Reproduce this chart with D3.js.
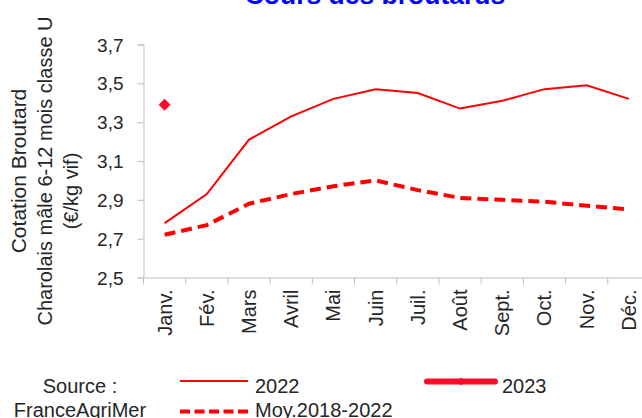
<!DOCTYPE html>
<html>
<head>
<meta charset="utf-8">
<script src="https://cdn.jsdelivr.net/npm/d3@7"></script>
<style>
  html, body { margin: 0; padding: 0; background: #fff; }
  svg { display: block; }
  text { font-family: "Liberation Sans", Arial, sans-serif; fill: #262626; }
</style>
</head>
<body>
<svg id="chart" width="642" height="418"></svg>
<script>
const months = ["Janv.", "Fév.", "Mars", "Avril", "Mai", "Juin", "Juil.", "Août", "Sept.", "Oct.", "Nov.", "Déc."];
const values2022 = [2.78, 2.93, 3.21, 3.33, 3.42, 3.47, 3.45, 3.37, 3.41, 3.47, 3.49, 3.42];
const valuesMoy = [2.72, 2.77, 2.88, 2.93, 2.97, 3.00, 2.95, 2.91, 2.90, 2.89, 2.87, 2.85];
const values2023 = [3.39];
const yTicks = [2.5, 2.7, 2.9, 3.1, 3.3, 3.5, 3.7];
const titleText = "Cours des broutards";
const yTitleLines = ["Cotation Broutard", "Charolais mâle 6-12 mois classe U", "(€/kg vif)"];

const svg = d3.select("#chart");
const plotLeft = 143.5, plotRight = 650, plotTop = 44.5, plotBottom = 277.5;
const axisColor = "#bfbfbf";

const x = d3.scaleBand().domain(months).range([plotLeft, plotRight]).padding(0);
const y = d3.scaleLinear().domain([2.5, 3.7]).range([plotBottom, plotTop]);

// Title (clipped at top, as in the reference)
svg.append("text").attr("x", 375).attr("y", 4).attr("text-anchor", "middle")
  .style("font-size", "26.5px").style("font-weight", "bold").style("fill", "#0000ff")
  .text(titleText);

// Y axis
const yAxis = svg.append("g").attr("transform", `translate(${plotLeft},0)`)
  .call(d3.axisLeft(y).tickValues(yTicks).tickSize(6).tickPadding(14)
    .tickFormat(d => d3.format(".1f")(d).replace(".", ",")));
yAxis.selectAll("path, line").attr("stroke", axisColor);
yAxis.selectAll("text").style("font-size", "19px").style("font-family", "Liberation Sans, Arial, sans-serif").attr("fill", "#262626").attr("dy", "0.35em");

// X axis
const xAxis = svg.append("g").attr("transform", `translate(0,${plotBottom})`)
  .call(d3.axisBottom(x).tickSize(0).tickFormat(""));
xAxis.select("path").attr("stroke", axisColor);
xAxis.selectAll(".tick").remove();
const bounds = months.map(m => x(m)).concat([plotRight]);
xAxis.selectAll("line.bt").data(bounds).enter().append("line").attr("class", "bt")
  .attr("x1", d => d).attr("x2", d => d).attr("y1", 0).attr("y2", 7).attr("stroke", axisColor);

svg.append("g").selectAll("text").data(months).enter().append("text")
  .attr("transform", d => `translate(${x(d) + x.bandwidth() / 2 + 7},${plotBottom + 12}) rotate(-90)`)
  .attr("text-anchor", "end").style("font-size", "20px").text(d => d);

// Y title
const yTitleX = [26, 52, 77.5];
const yTitleCY = [171, 171, 191];
const yTitleSize = [21, 20, 20];
yTitleLines.forEach((t, i) => {
  svg.append("text").attr("transform", `translate(${yTitleX[i]},${yTitleCY[i]}) rotate(-90)`)
    .attr("text-anchor", "middle").style("font-size", yTitleSize[i] + "px").text(t);
});

// Lines
const line = d3.line().x((d, i) => x(months[i]) + x.bandwidth() / 2).y(d => y(d));
svg.append("path").datum(valuesMoy).attr("d", line).attr("fill", "none")
  .attr("stroke", "#ff0000").attr("stroke-width", 4).attr("stroke-dasharray", "11,6");
svg.append("path").datum(values2022).attr("d", line).attr("fill", "none")
  .attr("stroke", "#ff0000").attr("stroke-width", 2);

// 2023 marker
const diamond = d3.symbol().type(d3.symbolDiamond2).size(90);
svg.append("g").selectAll("path").data(values2023).enter().append("path")
  .attr("d", diamond)
  .attr("transform", (d, i) => `translate(${x(months[i]) + x.bandwidth() / 2},${y(d)})`)
  .attr("fill", "#ff0a28");

// Legend
const lg = svg.append("g");
lg.append("text").attr("x", 80).attr("y", 393).attr("text-anchor", "middle").style("font-size", "20px").text("Source :");
lg.append("text").attr("x", 80).attr("y", 417).attr("text-anchor", "middle").style("font-size", "20px").text("FranceAgriMer");
lg.append("line").attr("x1", 180).attr("x2", 248).attr("y1", 381).attr("y2", 381).attr("stroke", "#ff0000").attr("stroke-width", 2);
lg.append("text").attr("x", 255).attr("y", 393).style("font-size", "20px").text("2022");
lg.append("line").attr("x1", 180).attr("x2", 248).attr("y1", 411.5).attr("y2", 411.5).attr("stroke", "#ff0000").attr("stroke-width", 4).attr("stroke-dasharray", "10,4.5");
lg.append("text").attr("x", 255).attr("y", 417).style("font-size", "20px").text("Moy.2018-2022");
lg.append("line").attr("x1", 427).attr("x2", 495).attr("y1", 381.5).attr("y2", 381.5).attr("stroke", "#ff0a28").attr("stroke-width", 6).attr("stroke-linecap", "round");
lg.append("path").attr("d", d3.symbol().type(d3.symbolDiamond2).size(40)).attr("transform", "translate(461,381.5)").attr("fill", "#ff0a28");
lg.append("text").attr("x", 502).attr("y", 393).style("font-size", "20px").text("2023");
</script>
</body>
</html>
